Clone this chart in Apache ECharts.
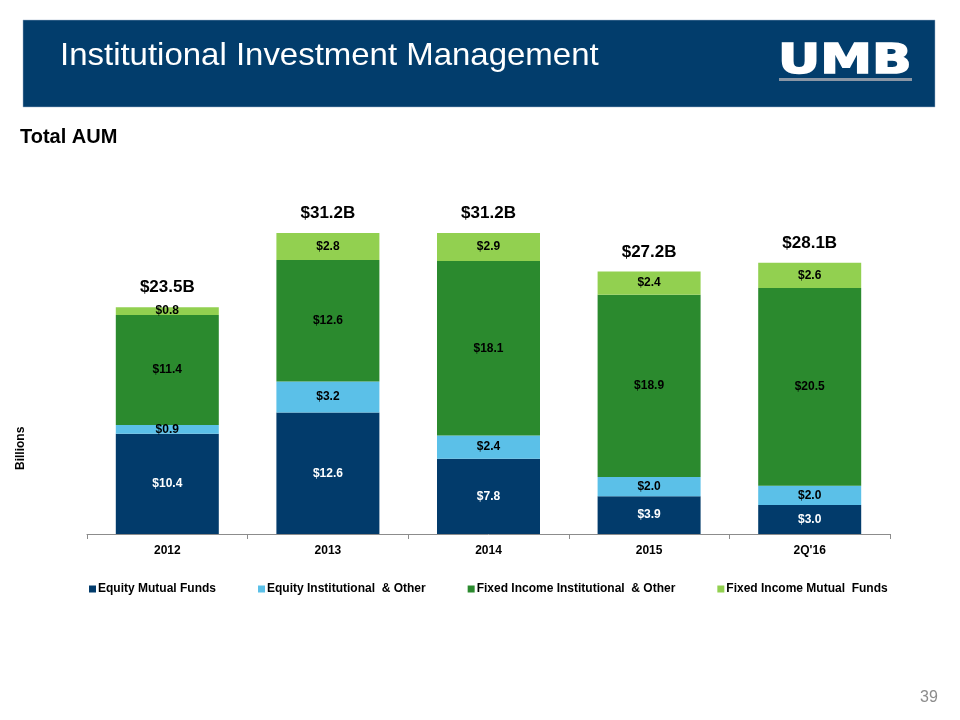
<!DOCTYPE html>
<html>
<head>
<meta charset="utf-8">
<style>html,body{margin:0;padding:0;background:#fff;}#c{width:960px;height:720px;}</style>
<script src="https://cdn.jsdelivr.net/npm/echarts@6/dist/echarts.min.js"></script>
</head>
<body>
<div id="c"></div>
<script>
var categories = ['2012', '2013', '2014', '2015', "2Q'16"];
var equityMutualFunds = [10.4, 12.6, 7.8, 3.9, 3.0];
var equityInstitutional = [0.9, 3.2, 2.4, 2.0, 2.0];
var fixedIncomeInstitutional = [11.4, 12.6, 18.1, 18.9, 20.5];
var fixedIncomeMutualFunds = [0.8, 2.8, 2.9, 2.4, 2.6];
var totals = [23.5, 31.2, 31.2, 27.2, 28.1];
var seriesNames = ['Equity Mutual Funds', 'Equity Institutional  & Other', 'Fixed Income Institutional  & Other', 'Fixed Income Mutual  Funds'];

var chart = echarts.init(document.getElementById('c'), null, {renderer: 'canvas'});
var FONT = 'Liberation Sans, Arial, sans-serif';
function lbl(color) {
  return {show: true, position: 'inside', color: color, fontWeight: 'bold', fontSize: 12, fontFamily: FONT,
    formatter: function (p) { return '$' + p.value.toFixed(1); }};
}
function bar(name, data, color, labelColor) {
  return {name: name, type: 'bar', stack: 'aum', data: data, barWidth: 103,
    itemStyle: {color: color}, label: lbl(labelColor), emphasis: {disabled: true}};
}
chart.setOption({
  animation: false,
  textStyle: {fontFamily: FONT},
  grid: {left: 87, right: 70, top: 148, bottom: 186},
  legend: {
    data: seriesNames, top: 578, left: 84, itemWidth: 7, itemHeight: 7, itemGap: 42, icon: 'rect',
    textStyle: {fontWeight: 'bold', fontSize: 12, color: '#000', fontFamily: FONT, padding: [0, 0, 0, -3]}
  },
  xAxis: {
    type: 'category', data: categories, boundaryGap: true,
    axisLine: {lineStyle: {color: '#8c8c8c', width: 1}},
    axisTick: {show: true, length: 5, lineStyle: {color: '#8c8c8c'}},
    axisLabel: {color: '#000', fontWeight: 'bold', fontSize: 12, margin: 11, fontFamily: FONT}
  },
  yAxis: {type: 'value', min: 0, max: 40, show: false, splitLine: {show: false}},
  series: [
    bar(seriesNames[0], equityMutualFunds, '#023b6b', '#fff'),
    bar(seriesNames[1], equityInstitutional, '#5bc0e8', '#000'),
    bar(seriesNames[2], fixedIncomeInstitutional, '#2b8a2e', '#000'),
    bar(seriesNames[3], fixedIncomeMutualFunds, '#92d050', '#000'),
    {name: 'Total', type: 'bar', data: totals, barWidth: 103, barGap: '-100%', silent: true, z: 0,
      itemStyle: {color: 'rgba(0,0,0,0)'},
      label: {show: true, position: 'top', distance: 11, color: '#000', fontWeight: 'bold', fontSize: 17, fontFamily: FONT,
        formatter: function (p) { return '$' + p.value.toFixed(1) + 'B'; }}}
  ],
  graphic: [
    {type: 'rect', shape: {x: 23, y: 20, width: 912, height: 87}, style: {fill: '#023d6c', stroke: '#9fb3c8', lineWidth: 0.5}},
    {type: 'text', x: 60, y: 40, scaleX: 1.03, style: {text: 'Institutional Investment Management', fill: '#fff', fontSize: 32, fontFamily: FONT, textVerticalAlign: 'top'}},
    {type: 'text', x: 778, y: 43, scaleX: 1.3, style: {text: 'UMB', fill: '#fff', stroke: '#fff', lineWidth: 1.5, fontSize: 40, fontWeight: 900, fontFamily: 'DejaVu Sans, sans-serif', textVerticalAlign: 'top'}},
    {type: 'rect', shape: {x: 779, y: 78, width: 133, height: 3}, style: {fill: '#8a96a5'}},
    {type: 'text', left: 20, top: 127, style: {text: 'Total AUM', fill: '#000', fontSize: 20, fontWeight: 'bold', fontFamily: FONT}},
    {type: 'text', x: 15, y: 470, rotation: Math.PI / 2, style: {text: 'Billions', fill: '#000', fontSize: 12, fontWeight: 'bold', fontFamily: FONT}},
    {type: 'text', left: 920, top: 690, style: {text: '39', fill: '#8c8c8c', fontSize: 16, fontFamily: FONT}}
  ]
});
</script>
</body>
</html>
